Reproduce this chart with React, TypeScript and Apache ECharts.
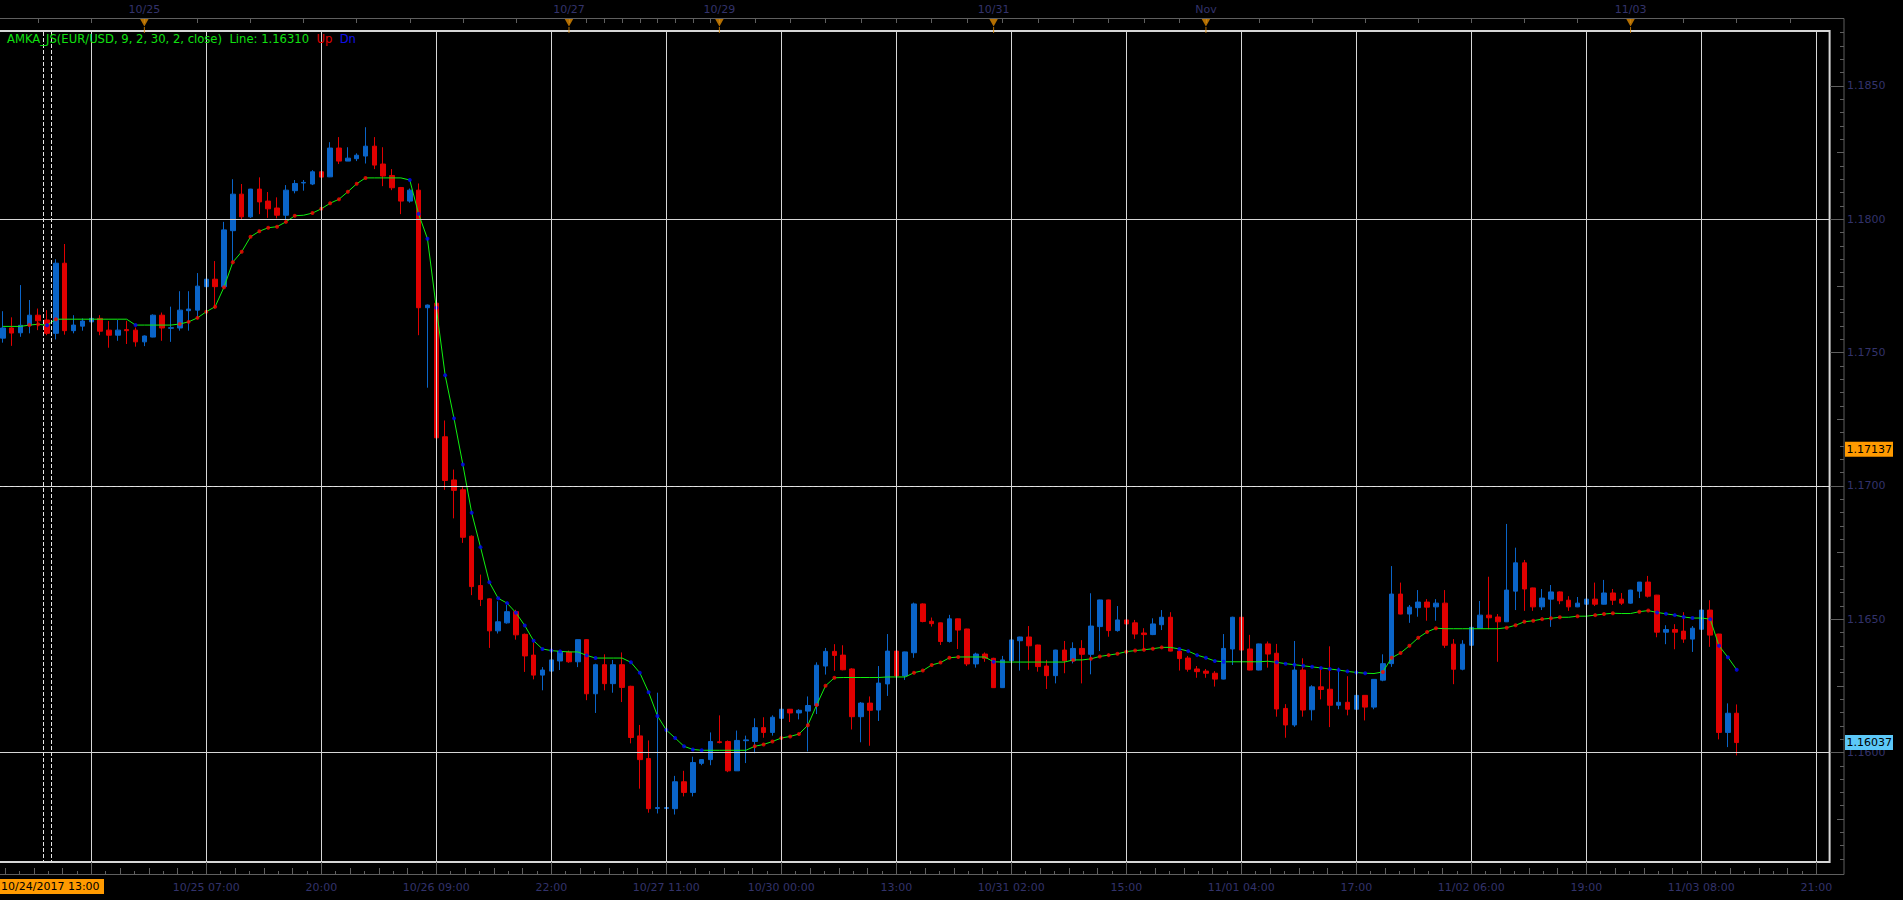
import React, { useEffect, useRef } from "react";
import * as echarts from "echarts";

// ---------- categories (hourly trading sessions, US Eastern) ----------
const SESSIONS: [string, number, number][] = [
  ["10/24", 8, 23], ["10/25", 0, 23], ["10/26", 0, 23], ["10/27", 0, 16],
  ["10/29", 17, 23], ["10/30", 0, 23], ["10/31", 0, 23], ["11/01", 0, 23],
  ["11/02", 0, 23], ["11/03", 0, 22],
];
const CATEGORIES: string[] = [];
for (const [d, h0, h1] of SESSIONS) for (let h = h0; h <= h1; h++) CATEGORIES.push(`${d} ${String(h).padStart(2, "0")}:00`);

// ---------- EUR/USD hourly OHLC ----------
const OPEN = [
  1.17554,1.17592,1.17574,1.17602,1.17640,1.17622,1.17572,1.17835,1.17582,1.17599,
  1.17615,1.17628,1.17584,1.17565,1.17586,1.17584,1.17540,1.17558,1.17640,1.17591,
  1.17592,1.17657,1.17659,1.17747,1.17775,1.17747,1.17957,1.18094,1.18009,1.18113,
  1.18068,1.18042,1.18015,1.18107,1.18136,1.18132,1.18178,1.18159,1.18267,1.18218,
  1.18227,1.18237,1.18274,1.18207,1.18164,1.18119,1.18068,1.18109,1.17668,1.17685,
  1.17184,1.17022,1.16985,1.16811,1.16626,1.16576,1.16456,1.16486,1.16528,1.16443,
  1.16365,1.16290,1.16305,1.16343,1.16376,1.16340,1.16423,1.16220,1.16329,1.16258,
  1.16329,1.16248,1.16062,1.15977,1.15790,1.15790,1.15789,1.15890,1.15850,1.15959,
  1.15973,1.16040,1.16041,1.15931,1.16044,1.16041,1.16093,1.16075,1.16128,1.16162,
  1.16148,1.16155,1.16176,1.16324,1.16379,1.16365,1.16313,1.16134,1.16185,1.16159,
  1.16257,1.16380,1.16287,1.16374,1.16557,1.16492,1.16486,1.16416,1.16501,1.16463,
  1.16332,1.16369,1.16353,1.16243,1.16344,1.16419,1.16433,1.16403,1.16324,1.16288,
  1.16384,1.16344,1.16390,1.16368,1.16472,1.16572,1.16457,1.16497,1.16486,1.16448,
  1.16442,1.16479,1.16507,1.16380,1.16354,1.16313,1.16305,1.16297,1.16275,1.16388,
  1.16507,1.16388,1.16309,1.16407,1.16372,1.16165,1.16103,1.16309,1.16160,1.16246,
  1.16237,1.16177,1.16188,1.16162,1.16214,1.16170,1.16271,1.16333,1.16594,1.16519,
  1.16543,1.16564,1.16546,1.16560,1.16406,1.16312,1.16402,1.16465,1.16515,1.16508,
  1.16490,1.16605,1.16711,1.16617,1.16546,1.16575,1.16602,1.16571,1.16546,1.16556,
  1.16575,1.16556,1.16598,1.16575,1.16560,1.16605,1.16639,1.16590,1.16451,1.16461,
  1.16455,1.16425,1.16462,1.16534,1.16444,1.16075,1.16147,
];
const HIGH = [
  1.17655,1.17632,1.17753,1.17697,1.17665,1.17659,1.17850,1.17907,1.17640,1.17628,
  1.17682,1.17640,1.17618,1.17622,1.17619,1.17594,1.17564,1.17643,1.17650,1.17672,
  1.17730,1.17730,1.17798,1.17794,1.17843,1.17990,1.18150,1.18132,1.18114,1.18157,
  1.18102,1.18082,1.18128,1.18147,1.18147,1.18184,1.18209,1.18289,1.18308,1.18270,
  1.18247,1.18345,1.18308,1.18270,1.18188,1.18121,1.18115,1.18134,1.17680,1.17836,
  1.17245,1.17061,1.16995,1.16814,1.16667,1.16578,1.16567,1.16553,1.16535,1.16446,
  1.16412,1.16320,1.16349,1.16382,1.16382,1.16424,1.16425,1.16333,1.16368,1.16347,
  1.16375,1.16250,1.16103,1.16045,1.16224,1.15856,1.15912,1.15931,1.15984,1.15975,
  1.16075,1.16139,1.16045,1.16082,1.16063,1.16128,1.16132,1.16139,1.16162,1.16163,
  1.16162,1.16210,1.16338,1.16392,1.16406,1.16402,1.16316,1.16189,1.16210,1.16324,
  1.16444,1.16390,1.16378,1.16562,1.16559,1.16506,1.16487,1.16516,1.16502,1.16464,
  1.16374,1.16375,1.16355,1.16362,1.16487,1.16434,1.16474,1.16404,1.16347,1.16385,
  1.16418,1.16413,1.16421,1.16597,1.16573,1.16573,1.16549,1.16553,1.16497,1.16466,
  1.16503,1.16534,1.16526,1.16388,1.16362,1.16324,1.16313,1.16305,1.16444,1.16509,
  1.16557,1.16441,1.16408,1.16416,1.16407,1.16181,1.16418,1.16353,1.16252,1.16321,
  1.16398,1.16318,1.16286,1.16229,1.16215,1.16275,1.16368,1.16699,1.16637,1.16553,
  1.16609,1.16575,1.16575,1.16609,1.16425,1.16421,1.16496,1.16568,1.16659,1.16519,
  1.16857,1.16768,1.16722,1.16618,1.16613,1.16628,1.16604,1.16586,1.16583,1.16586,
  1.16637,1.16647,1.16613,1.16598,1.16610,1.16639,1.16662,1.16591,1.16477,1.16481,
  1.16526,1.16474,1.16887,1.16571,1.16445,1.16184,1.16180,
];
const LOW = [
  1.17537,1.17525,1.17559,1.17572,1.17584,1.17565,1.17549,1.17567,1.17572,1.17582,
  1.17613,1.17565,1.17518,1.17544,1.17532,1.17522,1.17524,1.17557,1.17544,1.17540,
  1.17582,1.17582,1.17628,1.17682,1.17665,1.17744,1.17840,1.17997,1.18005,1.18019,
  1.18005,1.18003,1.18000,1.18097,1.18107,1.18128,1.18137,1.18158,1.18207,1.18218,
  1.18218,1.18209,1.18188,1.18124,1.18109,1.18019,1.18062,1.17565,1.17368,1.17056,
  1.16985,1.16878,1.16786,1.16590,1.16549,1.16392,1.16446,1.16483,1.16423,1.16302,
  1.16274,1.16233,1.16263,1.16309,1.16336,1.16320,1.16196,1.16148,1.16233,1.16224,
  1.16189,1.16034,1.15864,1.15774,1.15771,1.15730,1.15767,1.15835,1.15835,1.15952,
  1.15952,1.16034,1.15926,1.15931,1.15960,1.15997,1.16055,1.16063,1.16124,1.16114,
  1.16124,1.16004,1.16144,1.16292,1.16306,1.16308,1.16086,1.16038,1.16025,1.16118,
  1.16212,1.16284,1.16272,1.16355,1.16488,1.16472,1.16403,1.16412,1.16388,1.16324,
  1.16318,1.16340,1.16242,1.16242,1.16343,1.16307,1.16310,1.16303,1.16238,1.16259,
  1.16297,1.16334,1.16259,1.16293,1.16380,1.16434,1.16453,1.16469,1.16426,1.16384,
  1.16440,1.16459,1.16379,1.16307,1.16303,1.16280,1.16280,1.16247,1.16274,1.16328,
  1.16374,1.16308,1.16308,1.16318,1.16134,1.16055,1.16096,1.16134,1.16120,1.16199,
  1.16095,1.16162,1.16139,1.16161,1.16120,1.16162,1.16267,1.16321,1.16518,1.16486,
  1.16509,1.16494,1.16494,1.16392,1.16256,1.16308,1.16396,1.16463,1.16462,1.16340,
  1.16489,1.16534,1.16531,1.16531,1.16534,1.16471,1.16556,1.16531,1.16545,1.16531,
  1.16549,1.16555,1.16553,1.16553,1.16558,1.16579,1.16581,1.16432,1.16406,1.16387,
  1.16411,1.16377,1.16440,1.16396,1.16049,1.16020,1.15989,
];
const CLOSE = [
  1.17592,1.17573,1.17602,1.17640,1.17619,1.17572,1.17835,1.17582,1.17603,1.17618,
  1.17628,1.17580,1.17565,1.17584,1.17582,1.17540,1.17562,1.17640,1.17592,1.17593,
  1.17659,1.17663,1.17749,1.17775,1.17747,1.17960,1.18094,1.18009,1.18113,1.18065,
  1.18039,1.18015,1.18109,1.18134,1.18138,1.18178,1.18158,1.18267,1.18218,1.18229,
  1.18240,1.18274,1.18203,1.18162,1.18118,1.18068,1.18109,1.17668,1.17678,1.17180,
  1.17020,1.16983,1.16807,1.16622,1.16574,1.16456,1.16490,1.16528,1.16441,1.16362,
  1.16290,1.16309,1.16347,1.16379,1.16340,1.16423,1.16220,1.16329,1.16258,1.16329,
  1.16244,1.16056,1.15973,1.15789,1.15793,1.15793,1.15890,1.15850,1.15962,1.15973,
  1.16041,1.16037,1.15931,1.16045,1.16047,1.16093,1.16075,1.16132,1.16162,1.16148,
  1.16158,1.16176,1.16327,1.16379,1.16364,1.16310,1.16134,1.16185,1.16158,1.16260,
  1.16380,1.16287,1.16377,1.16557,1.16491,1.16483,1.16416,1.16501,1.16459,1.16332,
  1.16369,1.16353,1.16243,1.16347,1.16422,1.16433,1.16400,1.16322,1.16288,1.16384,
  1.16344,1.16390,1.16368,1.16474,1.16572,1.16457,1.16497,1.16482,1.16444,1.16442,
  1.16482,1.16507,1.16380,1.16352,1.16312,1.16303,1.16297,1.16275,1.16390,1.16507,
  1.16384,1.16309,1.16407,1.16369,1.16163,1.16103,1.16309,1.16159,1.16246,1.16236,
  1.16177,1.16188,1.16162,1.16214,1.16170,1.16274,1.16333,1.16594,1.16519,1.16545,
  1.16564,1.16545,1.16560,1.16402,1.16312,1.16406,1.16469,1.16515,1.16505,1.16490,
  1.16609,1.16711,1.16613,1.16546,1.16579,1.16602,1.16569,1.16546,1.16560,1.16575,
  1.16556,1.16598,1.16571,1.16560,1.16609,1.16639,1.16586,1.16451,1.16461,1.16451,
  1.16425,1.16466,1.16534,1.16440,1.16075,1.16147,1.16037,
];
// AMKA_JS indicator line, one value per candle
const AMKA = [
  1.17598,1.17598,1.17598,1.17603,1.17606,1.17602,1.17625,1.17625,1.17625,1.17625,
  1.17625,1.17625,1.17625,1.17625,1.17625,1.17603,1.17603,1.17603,1.17603,1.17603,
  1.17607,1.17615,1.17630,1.17653,1.17672,1.17745,1.17839,1.17878,1.17934,1.17955,
  1.17968,1.17972,1.17990,1.18013,1.18015,1.18023,1.18039,1.18060,1.18075,1.18103,
  1.18133,1.18155,1.18155,1.18155,1.18155,1.18155,1.18147,1.18020,1.17927,1.17668,
  1.17415,1.17253,1.17080,1.16899,1.16770,1.16638,1.16578,1.16560,1.16524,1.16476,
  1.16419,1.16388,1.16382,1.16379,1.16377,1.16377,1.16364,1.16354,1.16354,1.16354,
  1.16354,1.16338,1.16299,1.16226,1.16137,1.16084,1.16054,1.16023,1.16011,1.16008,
  1.16008,1.16008,1.16008,1.16008,1.16008,1.16023,1.16030,1.16041,1.16054,1.16060,
  1.16069,1.16102,1.16178,1.16250,1.16280,1.16281,1.16281,1.16281,1.16281,1.16281,
  1.16283,1.16283,1.16283,1.16299,1.16307,1.16328,1.16337,1.16355,1.16358,1.16358,
  1.16358,1.16358,1.16340,1.16339,1.16339,1.16339,1.16339,1.16339,1.16339,1.16339,
  1.16339,1.16347,1.16347,1.16351,1.16360,1.16365,1.16370,1.16378,1.16382,1.16385,
  1.16389,1.16394,1.16394,1.16388,1.16380,1.16365,1.16355,1.16343,1.16340,1.16340,
  1.16340,1.16340,1.16340,1.16342,1.16338,1.16333,1.16329,1.16325,1.16321,1.16317,
  1.16313,1.16309,1.16304,1.16300,1.16297,1.16296,1.16302,1.16355,1.16373,1.16400,
  1.16430,1.16452,1.16466,1.16464,1.16464,1.16464,1.16464,1.16464,1.16464,1.16464,
  1.16468,1.16477,1.16490,1.16494,1.16500,1.16503,1.16507,1.16507,1.16511,1.16511,
  1.16515,1.16519,1.16522,1.16521,1.16521,1.16528,1.16532,1.16525,1.16520,1.16515,
  1.16508,1.16504,1.16504,1.16500,1.16400,1.16357,1.16310,
];

// ---------- axes / ticks / labels ----------
const Y_MIN = 1.15589;
const Y_MAX = 1.18706;
const Y_MAJOR = [1.16, 1.165, 1.17, 1.175, 1.18, 1.185];
const Y_MID = [1.1575, 1.1625, 1.1675, 1.1725, 1.1775, 1.1825];
const Y_MINOR: number[] = [];
for (let k = 2312; k <= 2374; k++) if (k % 5 !== 0) Y_MINOR.push(+(k * 0.0005).toFixed(4));

const BOTTOM_FIRST = 10;
const BOTTOM_STEP = 13;
const BOTTOM_LABELS = [
  "", "10/25 07:00", "20:00", "10/26 09:00", "22:00", "10/27 11:00", "10/30 00:00", "13:00",
  "10/31 02:00", "15:00", "11/01 04:00", "17:00", "11/02 06:00", "19:00", "11/03 08:00", "21:00",
];
const GRID_CATS = BOTTOM_LABELS.map((_, k) => CATEGORIES[BOTTOM_FIRST + k * BOTTOM_STEP]);
const MINOR_SHORT: number[] = [];
const MINOR_MED: number[] = [];
for (let j = -8; j <= 8 * 16; j++) {
  if (j % 8 === 0) continue;
  const v = BOTTOM_FIRST + j * (BOTTOM_STEP / 8);
  if (v < -0.5 || v > 206.5) continue;
  if (Math.abs(j) % 2 === 1) MINOR_SHORT.push(v); else MINOR_MED.push(v);
}

const TOP_MARKERS = [
  { cat: "10/25 00:00", label: "10/25" },
  { cat: "10/27 00:00", label: "10/27" },
  { cat: "10/29 17:00", label: "10/29" },
  { cat: "10/31 00:00", label: "10/31" },
  { cat: "11/01 00:00", label: "Nov" },
  { cat: "11/03 00:00", label: "11/03" },
];
const TOP_TICK_INDEX: number[] = [];
for (let i = 0; i < CATEGORIES.length; i++) {
  if ((i < 64 && (i - 4) % 6 === 0) || (i >= 64 && i < 81 && (i - 64) % 2 === 0) ||
      (i >= 81 && i < 136 && (i - 81) % 4 === 0) || (i >= 136 && (i - 136) % 6 === 0)) TOP_TICK_INDEX.push(i);
}

const CROSS_PRICE = 1.17137;
const CROSS_CAT = "10/24 13:00";
const CROSS_LABEL = "10/24/2017 13:00";
const LAST_PRICE = 1.16037;
const LEGEND_MAIN = "AMKA_JS(EUR/USD, 9, 2, 30, 2, close)  Line: 1.16310";

// ---------- styling ----------
const NAVY = "#33336b";
const UP = "#0a64c8";
const DOWN = "#e00000";
const FONT = "DejaVu Sans";
const G_LEFT = -1.6, G_TOP = 31, G_WIDTH = 1831.2, G_HEIGHT = 831;

export default function App() {
  const ref = useRef<HTMLDivElement>(null);
  useEffect(() => {
    const chart = echarts.init(ref.current!, null, { renderer: "svg" });
    const topTickSet = new Set(TOP_TICK_INDEX);
    const markerMap = new Map<string, string>(TOP_MARKERS.map((m) => [m.cat, m.label]));
    const isGrid = (i: number) => i >= BOTTOM_FIRST && (i - BOTTOM_FIRST) % BOTTOM_STEP === 0;
    const upDots: [string, number][] = [];
    const dnDots: [string, number][] = [];
    for (let i = 1; i < AMKA.length; i++) {
      const d = AMKA[i] - AMKA[i - 1];
      if (d >= 0.000025) upDots.push([CATEGORIES[i], AMKA[i]]);
      else if (d <= -0.000025) dnDots.push([CATEGORIES[i], AMKA[i]]);
    }
    const valueXAxis = (ticks: number[], len: number) => ({
      type: "value", gridIndex: 0, position: "bottom", offset: 12, min: -0.5, max: CATEGORIES.length - 0.5,
      axisLine: { show: false, onZero: false }, splitLine: { show: false },
      axisLabel: { show: false },
      axisTick: { show: true, inside: true, length: len, customValues: ticks, lineStyle: { color: "#5f5f5f" } },
    });
    const sideYAxis = (ticks: number[], len: number, labels: boolean) => ({
      type: "value", gridIndex: 0, position: "right", offset: 14.4, min: Y_MIN, max: Y_MAX,
      axisLine: { show: false, onZero: false }, splitLine: { show: false },
      axisTick: { show: true, inside: true, length: len, customValues: ticks, lineStyle: { color: "#5f5f5f" } },
      axisLabel: labels
        ? { show: true, customValues: ticks, formatter: (v: number) => v.toFixed(4), color: NAVY, fontSize: 11, fontFamily: FONT, margin: 3 }
        : { show: false },
    });

    chart.setOption({
      animation: false,
      backgroundColor: "#000000",
      grid: [
        { left: G_LEFT, top: G_TOP, width: G_WIDTH, height: G_HEIGHT, show: true, borderColor: "#d6d6d6", borderWidth: 2, backgroundColor: "transparent", outerBoundsMode: "none", containLabel: false },
        { left: G_LEFT, top: 18, width: G_WIDTH, height: 13, outerBoundsMode: "none", containLabel: false },
      ],
      xAxis: [
        {
          type: "category", gridIndex: 0, data: CATEGORIES, position: "bottom", offset: 12, boundaryGap: true,
          axisLine: { show: false, onZero: false }, splitLine: { show: false },
          axisTick: { show: true, inside: true, length: 12, alignWithLabel: true, interval: (i: number) => isGrid(i), lineStyle: { color: "#5f5f5f" } },
          axisLabel: {
            interval: (i: number) => isGrid(i),
            formatter: (_v: string, i: number) => BOTTOM_LABELS[(i - BOTTOM_FIRST) / BOTTOM_STEP] ?? "",
            color: NAVY, fontSize: 11, fontFamily: FONT, margin: 8,
          },
        },
        {
          type: "category", gridIndex: 1, data: CATEGORIES, position: "top", boundaryGap: true,
          axisLine: { show: false, onZero: false }, splitLine: { show: false },
          axisTick: { show: true, inside: true, length: 5, alignWithLabel: true, interval: (i: number) => topTickSet.has(i), lineStyle: { color: "#5f5f5f" } },
          axisLabel: {
            interval: (_i: number, v: string) => markerMap.has(v),
            formatter: (v: string) => markerMap.get(v) ?? "",
            color: NAVY, fontSize: 11, fontFamily: FONT, margin: 3,
          },
        },
        valueXAxis(MINOR_SHORT, 3),
        valueXAxis(MINOR_MED, 6),
      ],
      yAxis: [
        sideYAxis(Y_MAJOR, 14, true),
        sideYAxis(Y_MID, 7, false),
        sideYAxis(Y_MINOR, 4, false),
        { type: "value", gridIndex: 1, min: 0, max: 1, show: false },
      ],
      series: [
        {
          type: "line", name: "grid", xAxisIndex: 0, yAxisIndex: 0, data: AMKA, z: 1,
          showSymbol: false, symbol: "none", lineStyle: { opacity: 0 }, silent: true,
          markLine: {
            silent: true, symbol: "none", label: { show: false },
            lineStyle: { color: "#d6d6d6", width: 1, type: "solid" },
            data: [
              ...Y_MAJOR.map((v) => ({ yAxis: v })),
              ...GRID_CATS.map((c) => ({ xAxis: c })),
              { yAxis: CROSS_PRICE, lineStyle: { color: "#e6e6e6", width: 1, type: [3, 3] } },
            ],
          },
        },
        {
          type: "candlestick", name: "EUR/USD", xAxisIndex: 0, yAxisIndex: 0, z: 2, barWidth: 5,
          data: OPEN.map((o, i) => [o, CLOSE[i], LOW[i], HIGH[i]]),
          itemStyle: { color: UP, color0: DOWN, borderColor: UP, borderColor0: DOWN, borderWidth: 1 },
        },
        {
          type: "line", name: "AMKA", xAxisIndex: 0, yAxisIndex: 0, data: AMKA, z: 3,
          showSymbol: false, symbol: "none", lineStyle: { color: "#10f010", width: 1 },
        },
        {
          type: "scatter", name: "Up", xAxisIndex: 0, yAxisIndex: 0, data: upDots, z: 4,
          symbol: "circle", symbolSize: 4, itemStyle: { color: "#ff0000" },
        },
        {
          type: "scatter", name: "Dn", xAxisIndex: 0, yAxisIndex: 0, data: dnDots, z: 4,
          symbol: "circle", symbolSize: 4, itemStyle: { color: "#0000ff" },
        },
        {
          type: "scatter", name: "markers", xAxisIndex: 1, yAxisIndex: 3, z: 5,
          data: TOP_MARKERS.map((m) => [m.cat, 0.66]),
          symbol: "triangle", symbolRotate: 180, symbolSize: [9, 8], itemStyle: { color: "#e08a00" },
        },
        {
          type: "scatter", name: "stems", xAxisIndex: 1, yAxisIndex: 3, z: 5, clip: false,
          data: TOP_MARKERS.map((m) => [m.cat, 0.08]),
          symbol: "rect", symbolSize: [1, 6], itemStyle: { color: "#e08a00" },
        },
      ],
    });

    const xc = chart.convertToPixel({ xAxisIndex: 0 }, CROSS_CAT) as number;
    const yCross = chart.convertToPixel({ yAxisIndex: 0 }, CROSS_PRICE) as number;
    const yLast = chart.convertToPixel({ yAxisIndex: 0 }, LAST_PRICE) as number;
    const half = G_WIDTH / CATEGORIES.length / 2;
    const axisX = G_LEFT + G_WIDTH + 14.4;
    const f11 = `11px "${FONT}"`;
    const fLeg = `11.6px "${FONT}"`;

    chart.setOption({
      graphic: [
        {
          type: "polyline", z: 50, silent: true,
          shape: { points: [[0, 18.5], [axisX, 18.5], [axisX, 874.5], [0, 874.5]] },
          style: { stroke: "#5f5f5f", lineWidth: 1, fill: null },
        },
        {
          type: "line", z: 50, silent: true,
          shape: { x1: Math.round(xc - half) + 0.5, y1: 32, x2: Math.round(xc - half) + 0.5, y2: 861 },
          style: { stroke: "#e6e6e6", lineWidth: 1, lineDash: [4, 2] },
        },
        {
          type: "line", z: 50, silent: true,
          shape: { x1: Math.round(xc + half) + 0.5, y1: 32, x2: Math.round(xc + half) + 0.5, y2: 861 },
          style: { stroke: "#e6e6e6", lineWidth: 1, lineDash: [4, 2] },
        },
        {
          type: "text", z: 60, silent: true, x: 7, y: 39,
          style: {
            text: `{g|${LEGEND_MAIN}}  {r|Up}  {b|Dn}`,
            verticalAlign: "middle", font: fLeg,
            rich: {
              g: { fill: "#10e010", font: fLeg },
              r: { fill: "#e00000", font: fLeg },
              b: { fill: "#1010e8", font: fLeg },
            },
          },
        },
        { type: "rect", z: 60, silent: true, shape: { x: 0, y: 879, width: 104, height: 15 }, style: { fill: "#ff9a00" } },
        {
          type: "text", z: 61, silent: true, x: 1, y: 886.5,
          style: { text: CROSS_LABEL, fill: "#000000", font: f11, verticalAlign: "middle" },
        },
        { type: "rect", z: 60, silent: true, shape: { x: axisX + 1, y: yCross - 7.5, width: 48, height: 15 }, style: { fill: "#ff9a00" } },
        {
          type: "text", z: 61, silent: true, x: axisX + 2.5, y: yCross,
          style: { text: CROSS_PRICE.toFixed(5), fill: "#000000", font: f11, verticalAlign: "middle" },
        },
        { type: "rect", z: 60, silent: true, shape: { x: axisX + 1, y: yLast - 7.5, width: 48, height: 15 }, style: { fill: "#5cc8f8" } },
        {
          type: "text", z: 61, silent: true, x: axisX + 2.5, y: yLast,
          style: { text: LAST_PRICE.toFixed(5), fill: "#000000", font: f11, verticalAlign: "middle" },
        },
      ],
    });

    return () => chart.dispose();
  }, []);

  return (
    <div
      ref={ref}
      style={{ position: "fixed", left: 0, top: 0, width: 1903, height: 900, background: "#000000" }}
    />
  );
}
